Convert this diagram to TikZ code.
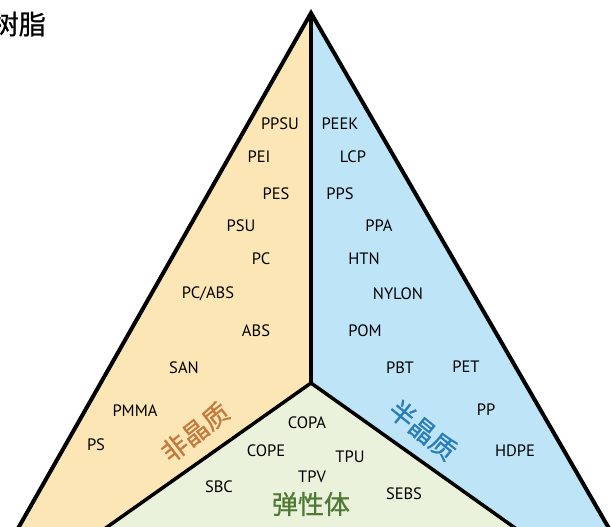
\documentclass[tikz,border=0pt]{standalone}
\usepackage{fontspec}
\setmainfont{PT Sans}
\newfontfamily\cjk[FakeBold=0.8]{Noto Sans CJK SC}
\usepackage{tikz}
\usetikzlibrary{shapes,arrows}
\definecolor{amorfill}{RGB}{253,230,181}
\definecolor{semifill}{RGB}{190,228,248}
\definecolor{elasfill}{RGB}{234,242,220}
\definecolor{amortext}{RGB}{196,122,60}
\definecolor{semitext}{RGB}{42,125,184}
\definecolor{elastext}{RGB}{78,122,52}
\tikzstyle{resin}=[inner sep=0pt, font=\fontsize{16.5}{16.5}\selectfont, text=black]
\tikzstyle{group}=[inner sep=0pt, font=\cjk\fontsize{26}{26}\selectfont]
\tikzstyle{edge}=[line width=4pt, line join=miter, draw=black]

\begin{document}
\begin{tikzpicture}[x=1pt, y=-1pt]
\useasboundingbox (0,0) rectangle (611,527);
\coordinate (apex) at (311,13);
\coordinate (mid) at (311,383);
\coordinate (bl) at (8.6,545);
\coordinate (br) at (618.6,545);
\coordinate (ibl) at (81.7,545);
\coordinate (ibr) at (539,545);
% three regions
\fill[amorfill] (apex) -- (mid) -- (ibl) -- (bl) -- cycle;
\fill[semifill] (apex) -- (br) -- (ibr) -- (mid) -- cycle;
\fill[elasfill] (mid) -- (ibr) -- (ibl) -- cycle;
\draw[edge] (bl) -- (apex) -- (br);
\draw[edge, line width=3.5pt] (apex) -- (mid);
\draw[edge, line width=3.5pt] (ibl) -- (mid) -- (ibr);
% title
\node[group, anchor=east, font=\cjk\fontsize{27}{27}\selectfont] (title) at (46,24) {树脂};
% amorphous
\node[resin] (ppsu) at (280,124) {PPSU};
\node[resin] (pei) at (259,157) {PEI};
\node[resin] (pes) at (276,194) {PES};
\node[resin] (psu) at (241,226) {PSU};
\node[resin] (pc) at (261,259) {PC};
\node[resin] (pcabs) at (208,294) {PC/ABS};
\node[resin] (abs) at (256,331) {ABS};
\node[resin] (san) at (184,368) {SAN};
\node[resin] (pmma) at (135,411) {PMMA};
\node[resin] (ps) at (96,445) {PS};
\node[group, text=amortext, rotate=38] (amor) at (195,432) {非晶质};
% semi-crystalline
\node[resin] (peek) at (340,124) {PEEK};
\node[resin] (lcp) at (353,157) {LCP};
\node[resin] (pps) at (340,194) {PPS};
\node[resin] (ppa) at (379,226) {PPA};
\node[resin] (htn) at (364,259) {HTN};
\node[resin] (nylon) at (398,294) {NYLON};
\node[resin] (pom) at (365,331) {POM};
\node[resin] (pbt) at (400,368) {PBT};
\node[resin] (pet) at (466,367) {PET};
\node[resin] (pp) at (486,410) {PP};
\node[resin] (hdpe) at (515,451) {HDPE};
\node[group, text=semitext, rotate=-39] (semi) at (423,430) {半晶质};
% elastomers
\node[resin] (copa) at (307,423) {COPA};
\node[resin] (cope) at (266,451) {COPE};
\node[resin] (tpu) at (350,457) {TPU};
\node[resin] (tpv) at (312,477) {TPV};
\node[resin] (sbc) at (219,487) {SBC};
\node[resin] (sebs) at (404,494) {SEBS};
\node[group, text=elastext] (elas) at (311,504) {弹性体};
\end{tikzpicture}
\end{document}
